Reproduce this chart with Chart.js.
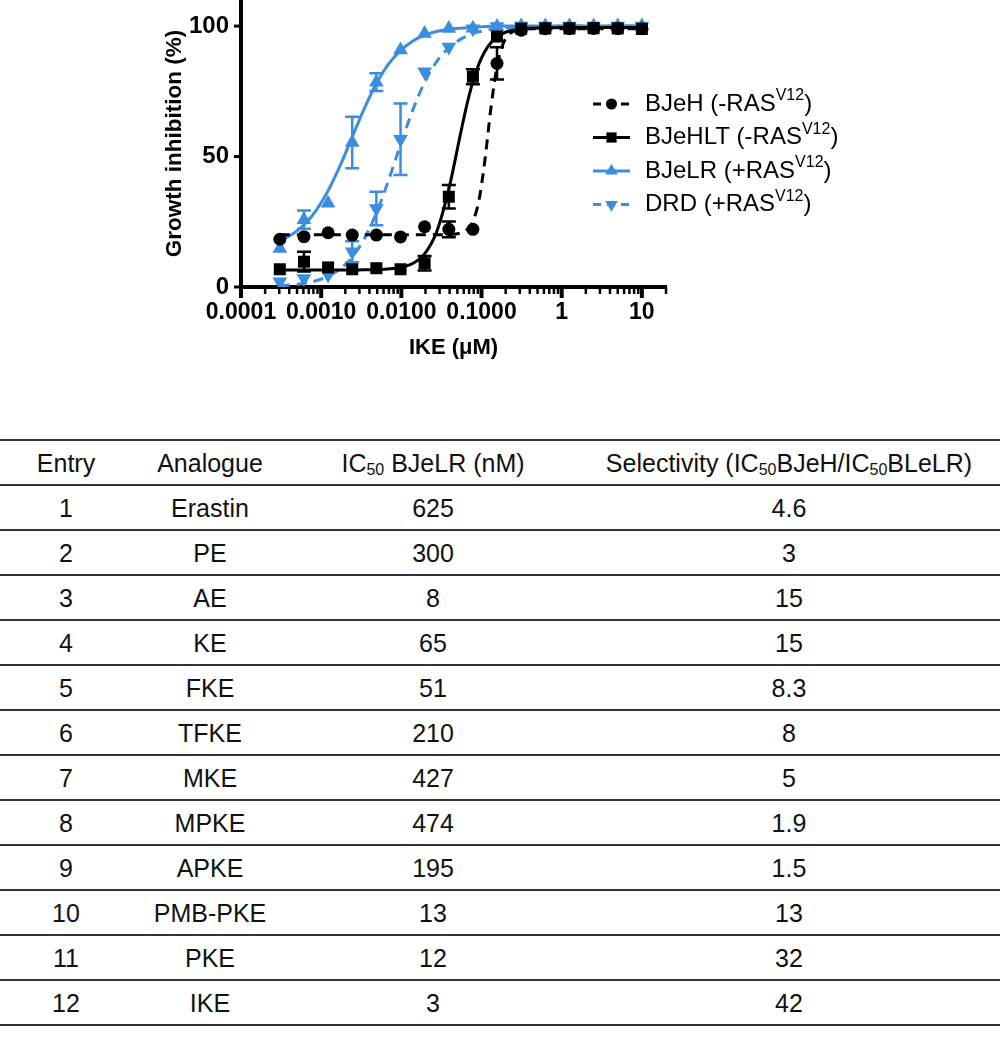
<!DOCTYPE html>
<html>
<head>
<meta charset="utf-8">
<script src="https://cdn.jsdelivr.net/npm/chart.js@4.4.1/dist/chart.umd.min.js"></script>
<style>
  body { margin: 0; background: #fff; width: 1000px; height: 1050px; position: relative; overflow: hidden;
         font-family: "Liberation Sans", Arial, sans-serif; }
  #plot { position: absolute; left: 0; top: 0; }
  #tbl { position: absolute; left: 0; top: 439px; width: 1000px; border-collapse: collapse; table-layout: fixed;
         font-size: 25px; color: #111; }
  #tbl td, #tbl th { text-align: center; font-weight: normal; height: 43px; padding: 0; border-bottom: 2px solid #333;
                     line-height: 26px; }
  #tbl tr:first-child th { border-top: 2px solid #333; }
  #tbl sub { font-size: 16px; vertical-align: -3px; line-height: 0; }
</style>
</head>
<body>
<canvas id="plot" width="1000" height="380"></canvas>
<table id="tbl">
  <colgroup><col style="width:132px"><col style="width:156px"><col style="width:290px"><col style="width:422px"></colgroup>
  <thead></thead>
  <tbody></tbody>
</table>
<script>
// IKE concentrations (uM), 2-fold dilutions
const conc = [0.000305, 0.00061, 0.00122, 0.00244, 0.00488, 0.00977, 0.0195, 0.0391, 0.0781, 0.156, 0.3125, 0.625, 1.25, 2.5, 5, 10];

// growth inhibition (%) mean and error per cell line
const bjehMean = [18.3, 19.3, 20.8, 19.9, 19.9, 19.2, 23.1, 22.1, 22.1, 85.7, 98.4, 99.0, 99.0, 99.1, 99.0, 99.0];
const bjehErr = [1.2, 2.5, 0.6, 2.2, 0.8, 2.4, 1.6, 3.0, 1.5, 6.2, 0.8, 0.5, 0.5, 0.5, 0.5, 0.5];
const bjehltMean = [6.8, 9.7, 7.5, 6.8, 7.2, 6.8, 9.1, 34.6, 80.6, 96.0, 99.0, 99.1, 99.1, 99.2, 99.1, 98.9];
const bjehltErr = [0.8, 3.8, 0.8, 0.5, 0.5, 0.8, 2.8, 4.5, 2.9, 1.2, 0.5, 0.5, 0.5, 0.5, 0.5, 0.5];
const bjelrMean = [14.8, 25.8, 32.1, 55.4, 78.5, 90.8, 97.2, 99.1, 99.2, 99.8, 100, 100, 100, 100, 100, 100];
const bjelrErr = [0.8, 3.5, 0.8, 9.9, 3.4, 2.3, 0.8, 0.5, 0.5, 0.5, 0.5, 0.5, 0.5, 0.5, 0.5, 0.5];
const drdMean = [2.0, 3.3, 4.6, 13.5, 30.1, 56.6, 82.5, 92.0, 99.0, 99.8, 100, 100, 100, 100, 100, 100];
const drdErr = [0.5, 1.2, 0.5, 4.0, 6.4, 13.7, 1.0, 1.2, 0.5, 0.5, 0.5, 0.5, 0.5, 0.5, 0.5, 0.5];

// fitted dose-response curves
const fitConc = [0.000305, 0.000431, 0.00061, 0.000863, 0.00122, 0.00173, 0.00244, 0.00345, 0.00488, 0.0069,
  0.00977, 0.0138, 0.0195, 0.0276, 0.0391, 0.0552, 0.0657, 0.0781, 0.0929, 0.110, 0.131, 0.156, 0.186, 0.221,
  0.3125, 0.442, 0.625, 1.25, 2.5, 5, 10];
const bjehFit = [20, 20, 20, 20, 20, 20, 20, 20, 20, 20, 20, 20, 20.0, 20.0, 20.1, 20.7, 21.9, 25.2, 33.2, 48.4,
  68.6, 84.6, 93.2, 96.9, 98.7, 99, 99, 99, 99, 99, 99];
const bjehltFit = [6.5, 6.5, 6.5, 6.5, 6.5, 6.5, 6.5, 6.6, 6.6, 6.9, 7.5, 9.0, 12.7, 21.2, 37.5, 59.3, 69.9, 78.7,
  85.5, 90.3, 93.6, 95.8, 97.2, 98.1, 98.9, 99.2, 99.4, 99.5, 99.5, 99.5, 99.5];
const bjelrFit = [17.7, 20.1, 23.8, 29.3, 36.9, 46.6, 57.5, 68.4, 78.0, 85.4, 90.6, 94.2, 96.5, 97.9, 98.7, 99.2,
  99.4, 99.5, 99.7, 99.8, 99.9, 99.9, 100, 100, 100, 100, 100, 100, 100, 100, 100];
const drdFit = [0.5, 0.8, 1.4, 2.4, 4.1, 7.0, 11.5, 18.5, 28.3, 40.8, 54.6, 67.6, 78.4, 86.4, 91.7, 95.0, 96.2,
  97.1, 97.8, 98.3, 98.7, 99.0, 99.3, 99.5, 99.7, 99.8, 99.9, 100, 100, 100, 100];

const seriesNames = ['BJeH', 'BJeHLT', 'BJeLR', 'DRD'];
const rasState = ['-', '-', '+', '+'];

const xTickValues = [0.0001, 0.001, 0.01, 0.1, 1, 10];
const xTickLabels = ['0.0001', '0.0010', '0.0100', '0.1000', '1', '10'];
const yTickValues = [0, 50, 100];

// table
const entries = ['1', '2', '3', '4', '5', '6', '7', '8', '9', '10', '11', '12'];
const analogues = ['Erastin', 'PE', 'AE', 'KE', 'FKE', 'TFKE', 'MKE', 'MPKE', 'APKE', 'PMB-PKE', 'PKE', 'IKE'];
const ic50 = ['625', '300', '8', '65', '51', '210', '427', '474', '195', '13', '12', '3'];
const selectivity = ['4.6', '3', '15', '15', '8.3', '8', '5', '1.9', '1.5', '13', '32', '42'];
const headers = ['Entry', 'Analogue', 'IC<sub>50</sub> BJeLR (nM)', 'Selectivity (IC<sub>50</sub>BJeH/IC<sub>50</sub>BLeLR)'];

const BLACK = '#000000';
const BLUE = '#3b8de0';
const FONT = '"Liberation Sans", Arial, sans-serif';

const styles = [
  { color: BLACK, dash: [10, 7], point: 'circle', radius: 6.5, rotation: 0 },
  { color: BLACK, dash: [], point: 'rect', radius: 8.5, rotation: 0 },
  { color: BLUE, dash: [], point: 'triangle', radius: 8.5, rotation: 0 },
  { color: BLUE, dash: [10, 7], point: 'triangle', radius: 8.5, rotation: 180 }
];

function toPoints(xs, ys) {
  return xs.map((x, i) => ({ x: x, y: ys[i] }));
}

const means = [bjehMean, bjehltMean, bjelrMean, drdMean];
const errs = [bjehErr, bjehltErr, bjelrErr, drdErr];
const fits = [bjehFit, bjehltFit, bjelrFit, drdFit];

const datasets = [];
// black above blue, markers above curves
const pointOrder = [0, 0, 1, 1];
const lineOrder = [2, 2, 3, 3];
seriesNames.forEach((name, i) => {
  const s = styles[i];
  datasets.push({
    label: name,
    data: toPoints(conc, means[i]),
    errors: errs[i],
    showLine: false,
    pointStyle: s.point,
    pointRotation: s.rotation,
    pointRadius: s.radius,
    pointBackgroundColor: s.color,
    pointBorderColor: s.color,
    pointBorderWidth: 0,
    borderColor: s.color,
    order: pointOrder[i]
  });
  datasets.push({
    label: name + ' fit',
    data: toPoints(fitConc, fits[i]),
    showLine: true,
    pointRadius: 0,
    borderColor: s.color,
    borderWidth: 3,
    borderDash: s.dash,
    cubicInterpolationMode: 'monotone',
    order: lineOrder[i]
  });
});

// vertical error bars with caps
const errorBars = {
  id: 'errorBars',
  afterDatasetDraw(chart, args) {
    const ds = chart.data.datasets[args.index];
    if (!ds.errors) return;
    const ctx = chart.ctx;
    const xs = chart.scales.x, ys = chart.scales.y;
    ctx.save();
    ctx.strokeStyle = ds.borderColor;
    ctx.lineWidth = 2.5;
    ds.data.forEach((p, i) => {
      const e = ds.errors[i];
      const x = xs.getPixelForValue(p.x);
      const yTop = ys.getPixelForValue(p.y + e);
      const yBot = ys.getPixelForValue(p.y - e);
      if ((yBot - yTop) / 2 < 7) return;
      ctx.beginPath();
      ctx.moveTo(x, yTop); ctx.lineTo(x, yBot);
      ctx.moveTo(x - 7, yTop); ctx.lineTo(x + 7, yTop);
      ctx.moveTo(x - 7, yBot); ctx.lineTo(x + 7, yBot);
      ctx.stroke();
    });
    ctx.restore();
  }
};

// major / minor tick marks outside the plot
const axisTicks = {
  id: 'axisTicks',
  afterDraw(chart) {
    const { ctx, chartArea } = chart;
    const x = chart.scales.x, y = chart.scales.y;
    ctx.save();
    ctx.strokeStyle = BLACK;
    for (let d = -4; d <= 1; d++) {
      for (let m = 1; m <= 9; m++) {
        const v = m * Math.pow(10, d);
        if (v > x.max * 1.0001) continue;
        const px = x.getPixelForValue(v);
        ctx.lineWidth = m === 1 ? 4 : 2.5;
        ctx.beginPath();
        ctx.moveTo(px, chartArea.bottom);
        ctx.lineTo(px, chartArea.bottom + (m === 1 ? 11 : 7));
        ctx.stroke();
      }
    }
    ctx.lineWidth = 3;
    yTickValues.forEach(v => {
      const py = y.getPixelForValue(v);
      ctx.beginPath();
      ctx.moveTo(chartArea.left - 7, py);
      ctx.lineTo(chartArea.left, py);
      ctx.stroke();
    });
    ctx.restore();
  }
};

// legend with superscript V12
const legendBox = { x: 593, y: 104, row: 33.5, sample: 37, textGap: 15 };
const customLegend = {
  id: 'customLegend',
  afterDraw(chart) {
    const ctx = chart.ctx;
    ctx.save();
    seriesNames.forEach((name, i) => {
      const s = styles[i];
      const y = legendBox.y + i * legendBox.row;
      ctx.strokeStyle = s.color;
      ctx.fillStyle = s.color;
      ctx.lineWidth = 3;
      ctx.setLineDash(s.dash.length ? [8, 6] : []);
      ctx.beginPath();
      ctx.moveTo(legendBox.x, y);
      ctx.lineTo(legendBox.x + legendBox.sample, y);
      ctx.stroke();
      ctx.setLineDash([]);
      Chart.helpers.drawPoint(ctx, { pointStyle: s.point, rotation: s.rotation, radius: s.radius * 0.85, borderWidth: 0 },
        legendBox.x + legendBox.sample / 2, y);
      ctx.fillStyle = BLACK;
      ctx.textBaseline = 'middle';
      ctx.textAlign = 'left';
      let tx = legendBox.x + legendBox.sample + legendBox.textGap;
      const main = name + ' (' + rasState[i] + 'RAS';
      ctx.font = '24px ' + FONT;
      ctx.fillText(main, tx, y);
      tx += ctx.measureText(main).width;
      ctx.font = '16px ' + FONT;
      ctx.fillText('V12', tx, y - 8);
      tx += ctx.measureText('V12').width;
      ctx.font = '24px ' + FONT;
      ctx.fillText(')', tx, y);
    });
    ctx.restore();
  }
};

new Chart(document.getElementById('plot'), {
  type: 'scatter',
  data: { datasets: datasets },
  options: {
    responsive: false,
    animation: false,
    layout: { autoPadding: false, padding: { left: 0, right: 334, top: 0, bottom: 0 } },
    plugins: { legend: { display: false }, tooltip: { enabled: false } },
    scales: {
      x: {
        type: 'logarithmic',
        min: 0.0001,
        max: 20,
        afterBuildTicks: s => { s.ticks = xTickValues.map(v => ({ value: v })); },
        afterFit: s => { s.height = 93; s.paddingLeft = 0; s.paddingRight = 0; },
        grid: { drawOnChartArea: false, drawTicks: false },
        border: { display: true, color: BLACK, width: 4 },
        ticks: {
          callback: (v, i) => xTickLabels[i],
          font: { family: FONT, size: 23, weight: 'bold' },
          color: BLACK, padding: 12, maxRotation: 0, autoSkip: false
        },
        title: {
          display: true, text: 'IKE (μM)', color: BLACK,
          font: { family: FONT, size: 22, weight: 'bold' },
          padding: { top: 0, bottom: 19 }
        }
      },
      y: {
        min: 0,
        max: 110,
        afterBuildTicks: s => { s.ticks = yTickValues.map(v => ({ value: v })); },
        afterFit: s => { s.width = 241; s.paddingTop = 0; s.paddingBottom = 0; },
        grid: { drawOnChartArea: false, drawTicks: false },
        border: { display: true, color: BLACK, width: 4 },
        ticks: { font: { family: FONT, size: 24, weight: 'bold' }, color: BLACK, padding: 12 },
        title: {
          display: true, text: 'Growth inhibition (%)', color: BLACK,
          font: { family: FONT, size: 22.5, weight: 'bold' },
          padding: { top: 161, bottom: 0 }
        }
      }
    }
  },
  plugins: [errorBars, axisTicks, customLegend]
});

// table
const thead = document.querySelector('#tbl thead');
thead.innerHTML = '<tr>' + headers.map(h => '<th>' + h + '</th>').join('') + '</tr>';
const tbody = document.querySelector('#tbl tbody');
entries.forEach((e, i) => {
  const tr = document.createElement('tr');
  [e, analogues[i], ic50[i], selectivity[i]].forEach(v => {
    const td = document.createElement('td');
    td.textContent = v;
    tr.appendChild(td);
  });
  tbody.appendChild(tr);
});
</script>
</body>
</html>
